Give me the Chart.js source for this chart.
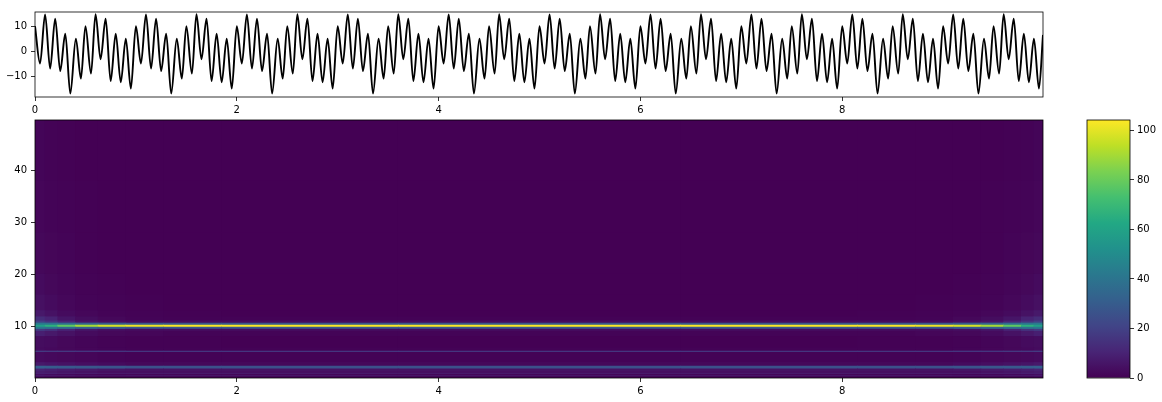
<!DOCTYPE html>
<html><head><meta charset="utf-8">
<style>html,body{margin:0;padding:0;background:#fff;width:1162px;height:402px;overflow:hidden}
canvas{position:absolute;left:0;top:0}</style>
<script src="https://cdn.jsdelivr.net/npm/chart.js@4"></script>
</head><body>
<canvas id="sig" width="1162" height="402"></canvas>
<canvas id="heat" width="1162" height="402"></canvas>
<canvas id="cbar" width="1162" height="402"></canvas>
<script>
// Signal, read as its turning points (time in s, amplitude)
const signalTimes = [
0,.05,.1,.15,.2,.25,.3,.35,.405,.455,.5,.555,.6,.65,.7,.75,.8,.85,.9,.95,
1,1.05,1.1,1.15,1.2,1.25,1.3,1.35,1.405,1.455,1.5,1.555,1.6,1.65,1.7,1.75,1.8,1.85,1.9,1.95,
2,2.05,2.1,2.15,2.2,2.25,2.3,2.35,2.405,2.455,2.5,2.555,2.6,2.65,2.7,2.75,2.8,2.85,2.9,2.95,
3,3.05,3.1,3.15,3.2,3.25,3.3,3.35,3.405,3.455,3.5,3.555,3.6,3.65,3.7,3.75,3.8,3.85,3.9,3.95,
4,4.05,4.1,4.15,4.2,4.25,4.3,4.35,4.405,4.455,4.5,4.555,4.6,4.65,4.7,4.75,4.8,4.85,4.9,4.95,
5,5.05,5.1,5.15,5.2,5.25,5.3,5.35,5.405,5.455,5.5,5.555,5.6,5.65,5.7,5.75,5.8,5.85,5.9,5.95,
6,6.05,6.1,6.15,6.2,6.25,6.3,6.35,6.405,6.455,6.5,6.555,6.6,6.65,6.7,6.75,6.8,6.85,6.9,6.95,
7,7.05,7.1,7.15,7.2,7.25,7.3,7.35,7.405,7.455,7.5,7.555,7.6,7.65,7.7,7.75,7.8,7.85,7.9,7.95,
8,8.05,8.1,8.15,8.2,8.25,8.3,8.35,8.405,8.455,8.5,8.555,8.6,8.65,8.7,8.75,8.8,8.85,8.9,8.95,
9,9.05,9.1,9.15,9.2,9.25,9.3,9.35,9.405,9.455,9.5,9.555,9.6,9.65,9.7,9.75,9.8,9.85,9.9,9.95,9.99];
const signalValues = [
10,-5,14.7,-7,13,-8,7,-17,5,-11,10,-9,14.8,-3.3,13,-12,7,-12.5,5,-15,
10,-5,14.7,-7,13,-8,7,-17,5,-11,10,-9,14.8,-3.3,13,-12,7,-12.5,5,-15,
10,-5,14.7,-7,13,-8,7,-17,5,-11,10,-9,14.8,-3.3,13,-12,7,-12.5,5,-15,
10,-5,14.7,-7,13,-8,7,-17,5,-11,10,-9,14.8,-3.3,13,-12,7,-12.5,5,-15,
10,-5,14.7,-7,13,-8,7,-17,5,-11,10,-9,14.8,-3.3,13,-12,7,-12.5,5,-15,
10,-5,14.7,-7,13,-8,7,-17,5,-11,10,-9,14.8,-3.3,13,-12,7,-12.5,5,-15,
10,-5,14.7,-7,13,-8,7,-17,5,-11,10,-9,14.8,-3.3,13,-12,7,-12.5,5,-15,
10,-5,14.7,-7,13,-8,7,-17,5,-11,10,-9,14.8,-3.3,13,-12,7,-12.5,5,-15,
10,-5,14.7,-7,13,-8,7,-17,5,-11,10,-9,14.8,-3.3,13,-12,7,-12.5,5,-15,
10,-5,14.7,-7,13,-8,7,-17,5,-11,10,-9,14.8,-3.3,13,-12,7,-12.5,5,-15,6.5];

// Scalogram: column centres (s), top edge of each frequency band (Hz), power per band/column
const timeColumns = [.05,.15,.3,.5,.75,1.05,1.5,2.2,5,7.8,8.5,8.95,9.25,9.5,9.7,9.85,9.95];
const bandTops = [.3,.5,.7,.9,1.3,1.75,2.3,3,4.95,5.2,5.4,5.8,8,9,9.4,9.8,10.2,10.6,11,11.8,13,16,20,28,38,49.7];
const powerRows = [
[3,2.5,2,2,1.5,1.5,1.5,1.5,1.5,1.5,1.5,1.5,1.5,2,2,2.5,3],
[8,7,7,6,6,6,6,6,6,6,6,6,6,6,7,7,8],
[4,3,2.5,2,1.5,1.5,1.5,1.5,1.5,1.5,1.5,1.5,1.5,2,2.5,3,4],
[9,9,8,8,7,7,7,7,7,7,7,7,7,8,8,9,9],
[8,7,6,5,4,4,4,4,4,4,4,4,4,5,6,7,8],
[10,9,8,7,6,5,5,5,5,5,5,5,6,7,8,9,10],
[31,30,29,28,27,26,26,26,26,26,26,26,27,28,29,30,31],
[7,6,5,4,3,2,2,2,2,2,2,2,3,4,5,6,7],
[3,2.5,2,1.5,1,.7,.5,.5,.5,.5,.5,.7,1,1.5,2,2.5,3],
[18,17,17,16,16,16,16,16,16,16,16,16,16,16,17,17,18],
[4,3,2.5,2,1.5,1,1,1,1,1,1,1,1.5,2,2.5,3,4],
[3,2.5,2,1.5,1,.7,.5,.5,.5,.5,.5,.7,1,1.5,2,2.5,3],
[3.5,3,2,1.2,.7,.4,.2,0,0,0,.2,.4,.7,1.2,2,3,3.5],
[9,7,5,3,2,1.5,1,1,1,1,1,1.5,2,3,5,7,9],
[18,15,10,6,4,3,3,3,3,3,3,3,4,6,10,15,18],
[42,40,37,33,30,29,28,28,28,28,28,29,30,33,37,40,42],
[58,66,78,90,98,102,104,104,104,104,104,102,98,90,78,66,58],
[42,40,37,33,30,29,28,28,28,28,28,29,30,33,37,40,42],
[20,16,11,6,4,3,3,3,3,3,3,3,4,6,11,16,20],
[13,10,6,3.5,2,1,.6,.5,.5,.5,.6,1,2,3.5,6,10,13],
[7,5,3,1.8,1,.5,.2,0,0,0,.2,.5,1,1.8,3,5,7],
[4.5,3,1.8,1,.5,.2,0,0,0,0,0,.2,.5,1,1.8,3,4.5],
[3,2,1.2,.6,.3,0,0,0,0,0,0,0,.3,.6,1.2,2,3],
[2,1.4,.8,.4,.1,0,0,0,0,0,0,0,.1,.4,.8,1.4,2],
[1.5,1,.5,.2,0,0,0,0,0,0,0,0,0,.2,.5,1,1.5],
[1.2,.7,.3,.1,0,0,0,0,0,0,0,0,0,.1,.3,.7,1.2]];
const heatTicks = [10,20,30,40];
const signalTicks = [-10,0,10];
const colorbarTicks = [0,20,40,60,80,100];
const powerMax = 104.2;

const viridis = [[68,1,84],[72,36,117],[65,68,135],[53,95,141],[42,120,142],[33,145,140],[34,168,132],[68,191,112],[122,209,81],[189,223,38],[253,231,37]];
function cmap(v){
  const t = Math.max(0,Math.min(1,v/powerMax))*10, i = Math.min(9,Math.floor(t)), f = t-i;
  const a = viridis[i], b = viridis[i+1];
  return `rgb(${a.map((c,k)=>Math.round(c+(b[k]-c)*f)).join(',')})`;
}
const font = {family:'"DejaVu Sans"',size:10};
const frame = {id:'frame',afterDraw(c){const a=c.chartArea,x=c.ctx;x.save();x.strokeStyle='#000';x.lineWidth=.8;
  x.strokeRect(Math.round(a.left),Math.round(a.top),Math.round(a.right-a.left),Math.round(a.bottom-a.top));x.restore();}};
const backdrop = {id:'backdrop',beforeDatasetsDraw(c){const a=c.chartArea,x=c.ctx;x.save();x.fillStyle=cmap(0);
  x.fillRect(a.left,a.top,a.right-a.left,a.bottom-a.top);x.restore();}};
const tickOpts = {display:true,drawOnChartArea:false,drawTicks:true,tickLength:4,tickWidth:.8,tickColor:'#000',offset:false};
const minus = v => String(v).replace('-','\u2212');
const fit = (w,h) => s => { if(w!==null) s.width=w; if(h!==null) s.height=h; };
const only = list => s => { s.ticks = list.map(v=>({value:v})); };
const base = {responsive:false,animation:false,events:[],plugins:{legend:{display:false},tooltip:{enabled:false}}};

new Chart(document.getElementById('sig'),{
  type:'line',
  data:{datasets:[{data:signalTimes.map((t,i)=>({x:t,y:signalValues[i]})),borderColor:'#000',borderWidth:1.9,pointRadius:0,cubicInterpolationMode:'monotone',fill:false}]},
  options:{...base,layout:{padding:{top:12,right:119,left:0,bottom:0}},
    scales:{
      x:{type:'linear',min:0,max:9.99,grid:tickOpts,border:{display:false},afterBuildTicks:only([0,2,4,6,8]),afterFit:fit(null,305),
         ticks:{font,color:'#000',padding:3,maxRotation:0,callback:minus}},
      y:{min:-18.4,max:15.7,grid:tickOpts,border:{display:false},afterBuildTicks:only(signalTicks),afterFit:fit(35,null),
         ticks:{font,color:'#000',padding:4,callback:minus}}
    }},
  plugins:[frame]
});

new Chart(document.getElementById('heat'),{
  type:'bar',
  data:{datasets:bandTops.map((top,b)=>({
    data:timeColumns.map(t=>({x:t,y:top-(b?bandTops[b-1]:0)})),
    backgroundColor:powerRows[b].map(cmap),
    borderWidth:0,barThickness:'flex',categoryPercentage:1,barPercentage:1,stack:'s'
  }))},
  options:{...base,layout:{padding:{top:120,right:119,left:0,bottom:0}},
    scales:{
      x:{type:'linear',offset:false,min:0,max:9.99,stacked:true,grid:tickOpts,border:{display:false},afterBuildTicks:only([0,2,4,6,8]),afterFit:fit(null,24),
         ticks:{font,color:'#000',padding:3,maxRotation:0}},
      y:{type:'linear',min:0,max:49.7,stacked:true,grid:tickOpts,border:{display:false},afterBuildTicks:only(heatTicks),afterFit:fit(35,null),
         ticks:{font,color:'#000',padding:4}}
    }},
  plugins:[backdrop,frame]
});

// Colour bar: one bar spanning the whole power range, filled with the colour map
new Chart(document.getElementById('cbar'),{
  type:'bar',
  data:{labels:[''],datasets:[{data:[[0,powerMax]],borderWidth:0,categoryPercentage:1,barPercentage:1,
    backgroundColor(ctx){
      const s = ctx.chart.scales.y;
      if(!s || !ctx.chart.chartArea) return '#000';
      const g = ctx.chart.ctx.createLinearGradient(0,s.getPixelForValue(0),0,s.getPixelForValue(powerMax));
      viridis.forEach((c,i)=>g.addColorStop(i/10,`rgb(${c.join(',')})`));
      return g;
    }}]},
  options:{...base,layout:{padding:{top:120,right:0,left:1087,bottom:24}},
    scales:{
      x:{display:false},
      y:{position:'right',min:0,max:powerMax,grid:tickOpts,border:{display:false},afterBuildTicks:only(colorbarTicks),afterFit:fit(32,null),
         ticks:{font,color:'#000',padding:3}}
    }},
  plugins:[frame]
});
</script>
</body></html>
